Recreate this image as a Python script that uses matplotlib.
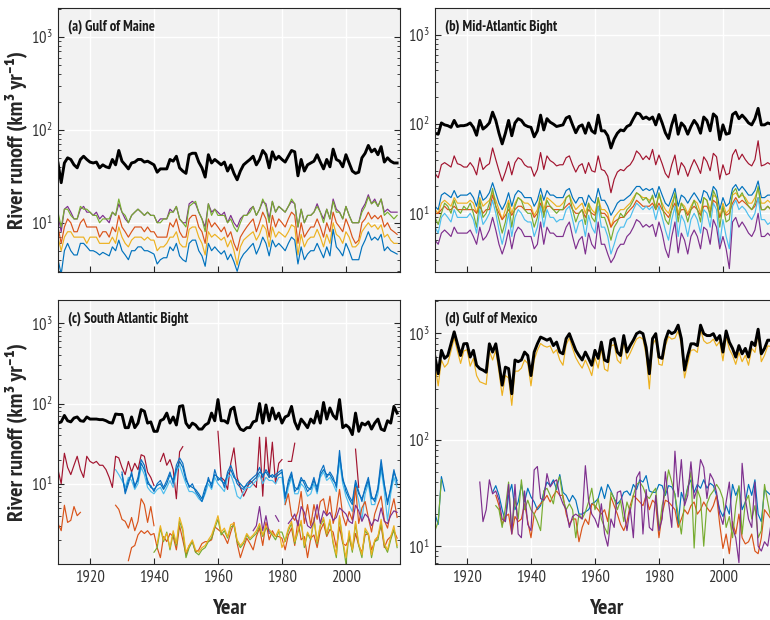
import numpy as np
import matplotlib
matplotlib.use("Agg")
import matplotlib.pyplot as plt
from matplotlib.ticker import FixedLocator, LogLocator, NullFormatter

nan = np.nan
Y0, Y1 = 1910, 2016
years = np.arange(Y0, Y1 + 1)


def series(start, vals):
    # place a run of annual values on the common 1910-2016 axis
    out = np.full(len(years), nan)
    i = start - Y0
    out[i:i + len(vals)] = vals
    return out


# colours (MATLAB default order)
BLUE, ORANGE, YELLOW = "#0072BD", "#D95319", "#EDB120"
PURPLE, GREEN, LBLUE, DRED = "#7E2F8E", "#77AC30", "#4DBEEE", "#A2142F"

# ---------------- (a) Gulf of Maine ----------------
a_total = [44, 27, 44, 50, 48, 42, 39, 48, 52, 48,
           45, 44, 45, 39, 42, 40, 39, 48, 42, 60,
           46, 42, 38, 44, 45, 48, 48, 45, 46, 44,
           42, 35, 38, 38, 38, 48, 46, 52, 39, 36,
           34, 54, 56, 56, 45, 39, 31, 54, 44, 48,
           45, 42, 45, 36, 42, 34, 29, 36, 42, 45,
           48, 52, 42, 48, 60, 54, 39, 58, 48, 52,
           48, 45, 52, 60, 58, 32, 48, 36, 42, 44,
           46, 54, 45, 38, 48, 40, 62, 48, 46, 40,
           54, 44, 36, 34, 35, 50, 56, 68, 58, 62,
           54, 66, 45, 50, 46, 44, 44]
a_purple = [12, 8, 14, 15, 13, 11, 11, 14, 15, 13,
            13, 12, 13, 11, 12, 11, 10, 13, 12, 16,
            13, 11, 10, 12, 13, 14, 13, 12, 13, 12,
            12, 10, 11, 11, 11, 14, 13, 15, 11, 10,
            10, 16, 17, 16, 13, 11, 9, 16, 13, 14,
            13, 12, 13, 10, 12, 10, 9, 11, 12, 12,
            14, 15, 12, 14, 17, 16, 11, 17, 13, 15,
            14, 13, 15, 17, 16, 9, 14, 10, 12, 12,
            13, 16, 13, 11, 14, 11, 18, 14, 13, 11,
            15, 12, 10, 10, 10, 14, 16, 20, 16, 18,
            15, 18, 13, 14, 13, 13, 13]
a_green = [13, 9, 14, 14, 12, 11, 11, 15, 14, 14,
           13, 12, 12, 10, 11, 11, 11, 13, 12, 18,
           13, 12, 10, 12, 13, 14, 13, 12, 13, 12,
           12, 10, 10, 11, 11, 13, 13, 15, 11, 10,
           9, 15, 16, 17, 13, 11, 8, 16, 12, 14,
           12, 12, 12, 10, 11, 9, 8, 10, 12, 12,
           13, 15, 12, 14, 18, 15, 10, 17, 13, 15,
           14, 13, 15, 18, 16, 9, 14, 10, 12, 12,
           13, 15, 13, 10, 14, 11, 17, 13, 13, 11,
           15, 12, 10, 10, 10, 13, 15, 19, 16, 17,
           15, 18, 12, 13, 12, 11, 12]
a_orange = [9, 6, 9, 11, 10, 8, 8, 10, 11, 9,
            9, 9, 9, 7, 8, 8, 7, 9, 8, 12,
            9, 8, 7, 8, 9, 9, 9, 8, 9, 8,
            8, 7, 7, 7, 7, 10, 9, 11, 8, 7,
            7, 11, 12, 12, 9, 8, 6, 11, 9, 10,
            9, 8, 9, 7, 8, 6, 5, 7, 8, 9,
            10, 11, 8, 10, 13, 11, 7, 12, 9, 11,
            10, 9, 11, 13, 12, 6, 10, 7, 8, 9,
            9, 11, 9, 7, 10, 8, 13, 10, 9, 8,
            11, 9, 7, 6, 6.5, 10, 11, 13, 11, 12,
            11, 12, 9, 10, 8.5, 8, 7.5]
a_yellow = [7, 5, 7, 8, 8, 7, 7, 7, 7, 6,
            7, 7, 7, 6, 6, 6, 6, 7, 6, 9,
            7, 6, 5.5, 6.5, 7, 7, 7, 6.5, 7, 6.5,
            6.5, 5, 5.5, 5.5, 6, 7, 7, 8, 6, 5.5,
            5.5, 8.5, 9, 9, 7, 6, 4.5, 8, 7, 7.5,
            7, 6.5, 7, 5.5, 6.5, 5, 3.5, 5.5, 6.5, 7,
            7.5, 8, 6.5, 7.5, 9.5, 8.5, 5.5, 9, 7, 8,
            7.5, 7, 8, 9.5, 9, 4.5, 7.5, 5.5, 6.5, 7,
            7, 8.5, 7, 5.5, 7.5, 6, 10, 7.5, 7, 6,
            8, 7, 5.5, 5.5, 6, 8, 9, 10, 9, 9.5,
            8.5, 9.5, 7, 7.5, 6.5, 6, 6]
a_blue = [4, 2.8, 5, 6, 5, 4.5, 4.5, 6, 6, 5.5,
          5, 5, 4.8, 4.5, 4.8, 4.6, 4.4, 5.5, 5, 6.5,
          5, 4.5, 4, 5, 5, 5.5, 5.5, 5, 5, 4.8,
          4.6, 3.6, 4, 4.2, 4.2, 5.5, 5, 6, 4.4, 4,
          3.8, 6, 6.5, 6.5, 5, 4.4, 3.4, 6, 5, 5.5,
          5, 4.6, 5, 4, 4.6, 3.8, 3, 4, 4.6, 5,
          5.5, 6, 4.6, 5.5, 7, 6, 4.4, 6.5, 5.5, 6,
          5.5, 5, 6, 7, 6.5, 3.6, 5.5, 4, 4.6, 5,
          5, 6, 5, 4.2, 5.5, 4.4, 8.5, 5.5, 5, 4.4,
          6, 5, 4, 4, 4, 5.5, 6.5, 8, 6.5, 7,
          6.5, 7.5, 5, 5.5, 5, 4.8, 4.6]

# ---------------- (b) Mid-Atlantic Bight ----------------
b_total = [79, 77, 103, 98, 96, 92, 110, 94, 96, 96,
           98, 103, 92, 75, 110, 88, 94, 103, 136, 110,
           79, 60, 79, 110, 74, 103, 115, 110, 98, 94,
           92, 72, 84, 126, 86, 115, 105, 100, 94, 96,
           98, 117, 122, 98, 80, 94, 98, 79, 103, 84,
           79, 126, 84, 84, 74, 54, 68, 79, 86, 84,
           94, 98, 115, 133, 130, 115, 120, 113, 120, 98,
           128, 103, 80, 69, 98, 126, 77, 103, 94, 77,
           94, 110, 98, 79, 120, 110, 84, 130, 120, 67,
           98, 77, 79, 128, 136, 115, 126, 115, 103, 98,
           115, 150, 98, 98, 103, 100, 95]
b_dred = [28, 25, 35, 37, 35, 33, 44, 36, 35, 33,
          33, 37, 33, 27, 42, 31, 34, 36, 54, 40,
          30, 23, 29, 38, 27, 37, 42, 40, 35, 33,
          33, 26, 31, 48, 31, 44, 39, 37, 34, 35,
          35, 42, 44, 35, 29, 34, 36, 28, 37, 30,
          29, 44, 31, 30, 26, 17, 24, 29, 31, 30,
          33, 35, 40, 50, 46, 40, 44, 40, 52, 35,
          45, 36, 28, 25, 35, 45, 27, 37, 33, 26,
          33, 40, 34, 28, 43, 38, 30, 47, 43, 24,
          35, 27, 28, 45, 52, 40, 46, 40, 36, 34,
          40, 65, 34, 35, 37, 35, 36]
b_blue = [12, 11, 16, 17, 16, 15, 18, 15, 16, 16,
          16, 17, 15, 12, 18, 14, 15, 17, 22, 17,
          13, 11, 13, 17, 12, 16, 18, 17, 15, 15,
          15, 12, 14, 19, 14, 18, 16, 16, 15, 15,
          15, 18, 19, 15, 13, 15, 15, 12, 16, 14,
          13, 19, 14, 14, 12, 9.5, 11, 13, 14, 14,
          15, 16, 18, 20, 20, 18, 19, 18, 19, 15,
          20, 16, 13, 12, 15, 19, 12, 16, 15, 13,
          15, 17, 15, 13, 18, 17, 14, 20, 18, 11,
          15, 12, 13, 19, 21, 18, 20, 18, 16, 16,
          18, 23, 15, 15, 16, 16, 15]
b_yellow = [11, 10, 13, 14, 13, 12, 15, 13, 13, 13,
            13, 14, 13, 10, 15, 12, 13, 14, 17, 14,
            11, 8.5, 11, 14, 10, 13, 15, 14, 13, 13,
            12, 9.5, 11, 16, 11, 15, 14, 13, 12, 12,
            13, 15, 16, 13, 11, 12, 13, 10, 13, 11,
            10, 15, 11, 11, 10, 7, 9, 10, 11, 11,
            12, 13, 15, 17, 16, 15, 15, 14, 15, 12,
            16, 13, 11, 10, 13, 16, 10, 13, 12, 10,
            12, 14, 13, 10, 15, 14, 11, 16, 15, 9,
            13, 10, 11, 16, 17, 15, 16, 15, 13, 13,
            15, 19, 13, 13, 14, 13, 13]
b_orange = [10, 10, 11, 12, 11, 11, 12, 11, 11, 11,
            11, 11, 11, 10, 12, 10, 11, 11, 16, 12,
            10, 8.5, 9.5, 11, 9.5, 11, 12, 12, 11, 11,
            11, 9, 10, 13, 10, 12, 12, 11, 11, 11,
            11, 12, 13, 11, 10, 10, 11, 9, 11, 10,
            9.5, 12, 10, 10, 9, 7, 8, 8.5, 9, 9,
            10, 11, 12, 14, 13, 12, 12, 12, 13, 11,
            13, 11, 10, 9, 11, 13, 9.5, 11, 11, 9.5,
            11, 12, 11, 9.5, 12, 12, 10, 14, 13, 9,
            11, 9.5, 10, 13, 15, 13, 14, 13, 12, 11,
            12, 15, 11, 11, 12, 11, 11]
b_green = [9, 7.5, 10, 13, 12, 10, 14, 11, 10, 12,
           11, 13, 10, 7, 14, 9, 10, 13, 19, 12,
           8.5, 6, 8, 13, 7, 12, 15, 14, 11, 10,
           10, 7, 9, 16, 9, 14, 12, 11, 10, 11,
           11, 15, 16, 11, 8, 10, 11, 7.5, 13, 9,
           8, 15, 9, 9, 7, 5, 7, 8, 10, 9,
           11, 12, 14, 17, 16, 14, 15, 13, 16, 11,
           17, 12, 8.5, 7.5, 11, 17, 8, 13, 11, 8,
           11, 14, 11, 8, 15, 14, 9, 18, 15, 7,
           12, 8, 8.5, 17, 19, 15, 17, 14, 12, 11,
           13, 20, 11, 11, 12, 11, 11]
b_lblue = [7, 6, 9, 10, 9, 8, 11, 9, 9, 9,
           9, 10, 8.5, 6, 11, 7.5, 8.5, 10, 14, 10,
           6.5, 4.5, 6.5, 10, 5.5, 9, 11, 10, 8.5, 8,
           8, 5.5, 7, 12, 7, 11, 9, 9, 8, 8.5,
           8.5, 11, 12, 8.5, 6, 8, 8.5, 5.5, 9.5, 7,
           6, 12, 7, 7, 5.5, 3.5, 4.5, 6, 7, 7,
           8.5, 9, 11, 13, 12, 11, 12, 11, 12, 8.5,
           12, 9, 6.5, 5, 8.5, 12, 5.5, 9.5, 8, 5.5,
           8.5, 10, 8.5, 6, 11, 10, 7, 13, 11, 4.5,
           8.5, 5.5, 4, 12, 14, 11, 12, 11, 9.5, 8.5,
           10, 15, 8.5, 8.5, 7.5, 8, 8.5]
b_purple = [5, 4.5, 6, 6.5, 6, 5.5, 7, 6, 6, 6,
            6, 6.5, 5.5, 4.5, 7, 5, 5.5, 6.5, 9, 6.5,
            4.5, 3.5, 4.5, 6.5, 4, 6, 7, 6.5, 5.5, 5.5,
            5.5, 4, 4.5, 8, 4.5, 7, 6, 6, 5.5, 5.5,
            5.5, 7, 8, 5.5, 4, 5, 5.5, 3.5, 6, 4.5,
            4, 8, 4.5, 4.5, 3.5, 2.8, 3.2, 4, 4.5, 4.5,
            5.5, 6, 7, 8.5, 8, 7, 7.5, 7, 7.5, 5.5,
            8, 6, 4, 3.2, 5.5, 8, 3.6, 6, 5, 3.5,
            5.5, 6.5, 5.5, 4, 7, 6.5, 4.5, 8.5, 7, 4,
            5.5, 4, 2.4, 8, 9, 7, 8, 7, 6, 5.5,
            6.5, 10, 5.5, 5.5, 6, 5.5, 5.5]

# ---------------- (c) South Atlantic Bight ----------------
c_total = [57, 59, 71, 61, 59, 66, 68, 61, 60, 68,
           64, 64, 64, 63, 63, 61, 58, 57, 74, 73,
           73, 50, 50, 68, 50, 57, 84, 80, 57, 59,
           45, 45, 61, 64, 76, 57, 68, 54, 92, 94,
           57, 50, 57, 54, 48, 48, 54, 57, 76, 61,
           112, 61, 61, 57, 84, 90, 57, 48, 46, 50,
           50, 59, 61, 100, 57, 96, 61, 88, 64, 76,
           57, 68, 71, 92, 59, 48, 64, 57, 50, 64,
           57, 80, 57, 103, 64, 88, 71, 64, 112, 50,
           54, 50, 41, 76, 45, 57, 54, 59, 48, 57,
           64, 48, 46, 61, 57, 92, 76]
c_dred = [15, 10, 24, 16, 13, 17, 22, 15, 12, 22,
          19, 18, 19, 17, 17, 15, 12, 9, 22, 21,
          16, 13, 19, 14, 18, 15, 23, 22, 14, 12,
          9.5, nan, 19, 24, 17, 20, 15, 6.5, 25, 29,
          nan, nan, nan, nan, nan, nan, nan, nan, nan, nan,
          45, 12, 11, 8.5, 18, 28, 12, 9, 7, 8.5,
          11, 10, 9, 38, 7, 38, 12, 33, 10, 18,
          20, nan, 19, 19, 32, nan, nan, nan, nan, nan,
          nan, nan, nan, nan, nan, nan, nan, nan, nan, nan,
          nan, nan, nan, 27, 9, nan, nan, nan, nan, nan,
          nan, nan, nan, nan, nan, nan, nan]
c_blue1 = [14, 7.5, 10, 14, 9, 12, 20, 17, 10, 9.5,
           8, 10, 11, 9, 11, 14, 10, 17, 21, 18,
           12, 9, 10, 8, 7, 6, 8, 12, 9, 15,
           11, 12, 9, 14, 17, 13, 10, 9, 8.5, 10,
           11, 12, 13, 16, 12, 15, 13, 12, 13, 14,
           15, 6.5, 11, 14, 8, 9, 12, 10, 8, 9,
           12, 8, 14, 17, 12, 14, 12, 9, 26, 11,
           9, 7, 6, 11, 8, 6, 9, 12, 7, 6,
           9, 20, 10, 5.5, 9, 15, 10]          # from 1930
c_blue2 = [13, 8, 11, 13, 9.5, 11, 18, 15, 11, 9,
           8.5, 9.5, 10, 8.5, 10, 13, 11, 15, 19, 16,
           11, 9.5, 9, 8.5, 7.5, 6.5, 9, 11, 10, 13,
           12, 11, 10, 13, 15, 12, 11, 10, 9, 9.5,
           10, 11, 12, 14, 13, 14, 12, 13, 12, 13,
           14, 7, 10, 13, 9, 8.5, 11, 11, 9, 8.5,
           11, 9, 13, 15, 13, 13, 11, 10, 22, 12,
           8, 6.5, 5.5, 10, 7.5, 6.5, 8.5, 11, 6.5, 6.5,
           8.5, 17, 9.5, 6, 8.5, 14, 11]       # from 1930
c_lblue = [15, 13,
           11, 9, 12, 11, 8.5, 10, 16, 13, 9, 8,
           7.5, 8.5, 9, 7.5, 9, 11, 9, 14, 17, 13,
           10, 8, 8, 7.5, 6.5, 6, 7.5, 10, 8.5, 12,
           10, 9, 8, 12, 13, 10, 7, 6.5, 8, 9,
           9, 10, 11, 13, 10, 12, 11, 11, 10, 12,
           12, 5.5, 9, 12, 7.5, 7.5, 10, 9, 7, 7.5,
           10, 7.5, 12, 14, 11, 12, 10, 8, 19, 10,
           7, 5.5, 4.5, 9, 6, 3.5, 7.5, 10, 5.5, 5.5,
           7.5, 15, 8, 3.5, 7.5, 12, 9]        # from 1928
c_orange1 = [3.2, 2.6, 5.4, 3.3, 3.5, 5.2, 4, 4.4,
             nan, nan, nan, nan, nan, nan, nan, nan, nan, nan,
             5.4, 4.8, 3.6, 3.4, 2.8, 3.8, 2.6, 3.4, 6.5, 5.5,
             3.3, 5.2, 3.0]                    # from 1910
c_orange2 = [1.1, 1.6, 1.7, 2.3, 2.6, 2.4, 2.6, 2.3,
             2.4, 1.6, 1.2, 2.2, 1.9, 2.4, 2.2, 1.5, 3.0, 2.0,
             1.3, 1.7, 1.9, 1.4, 1.5, 1.8, 1.9, 1.9, 2.0, 2.9,
             2.7, 2.5, 2.2, 1.8, 2.5, 3.3, 1.8, 1.2, 1.6, 2.1,
             1.8, 1.5, 2.2, 2.8, 1.7, 3.3, 2.0, 2.6, 2.2, 2.2,
             2.1, 1.5, 2.3, 2.8, 1.7, 3.5, 2.0, 2.2, 1.2, 2.1,
             2.3, 1.6, 2.6, 3.2, 2.2, 2.7, 2.5, 1.6, 2.9, 1.8,
             1.7, 2.1, 1.5, 2.4, 1.7, 1.4, 2.3, 2.4, 1.5, 1.9,
             2.2, 3.0, 1.6, 2.0, 2.2, 2.6, 2.1]  # from 1932
c_orange3 = [5.5, 7.5, 4, 3.5, 4.5, 8, 3.2, 5.5, 3,
             5.5, 3.6, 6, 6.5, 4, 7, 3.2, 4.5, 8.5, 4,
             3, 4.5, 3.5, 9, 3.2, 5, 6, 3.8, 2.5, 4.2,
             5.5, 7, 3.5, 2.8, 4.5, 6.5, 3.8]  # from 1981
c_green = [1.4, 1.6, 2.8, 1.9, 2.5, 1.5, 2.4, 1.7, 3.4, 2.6,
           1.2, 1.6, 1.9, 1.4, 1.3, 1.5, 1.6, 1.9, 2.1, 2.8,
           3.6, 2.3, 2.6, 2.1, 2.9, 3.0, 1.9, 1.6, 1.8, 2.3,
           2.0, 2.2, 2.4, 3.0, 2.2, 2.8, 2.6, 2.3, 2.0, 2.5,
           2.5, 1.9, 2.6, 3.2, 1.8, 2.5, 3.3, 1.6, 2.4, 2.0,
           3.6, 1.8, 3.0, 3.6, 2.3, 3.4, 1.8, 1.2, 3.8, 1.9,
           1.0, 2.4, 1.4, 3.2, 1.7, 1.2, 2.6, 2.3, 1.2, 1.9,
           2.0, 3.3, 1.7, 1.4, 2.0, 2.7, 1.6]  # from 1940
c_yellow = [1.8, 3.0, 2.0, 2.4, 1.6, 2.6, 1.8, 3.8, 2.8,
            1.4, 1.7, 2.0, 1.5, 1.4, 1.6, 1.7, 2.0, 2.3, 3.0,
            4.0, 2.5, 2.8, 2.2, 3.1, 3.2, 2.0, 1.7, 1.9, 2.4,
            2.1, 2.3, 2.6, 3.2, 2.3, 3.0, 2.7, 2.4, 2.2, 2.7,
            1.6, 2.0, 2.8, 3.4, 1.9, 2.6, 3.5, 1.7, 2.5, 2.1,
            3.8, 1.9, 3.1, 3.8, 2.4, 3.6, 1.9, 1.3, 4.0, 2.0,
            1.2, 2.6, 1.5, 3.4, 1.8, 1.3, 2.8, 2.4, 1.3, 2.0,
            2.2, 3.6, 1.8, 1.5, 2.2, 3.0, 1.7]  # from 1941
c_purple = [2.6, 3.0, 5.2, 2.6, 4.0, 2.4, nan, 4.0, 3.4,
            nan, nan, 3.2, 3.6, 4.2, 3.0, 5.2, 4.4, 3.0, 2.8,
            3.4, 5.5, 3.2, 4.6, 4.0, 4.4, 3.5, 3.8, 5.0, 4.6,
            4.2, 3.4, 3.2, 5.4, 4.6, 3.4, 4.2, 3.8, 3.0, 3.6,
            3.4, 5.0, 3.4, 3.2, 4.0, 4.6, 4.4]  # from 1971

# ---------------- (d) Gulf of Mexico ----------------
d_total = [597, 416, 690, 580, 617, 795, 1030, 795, 617, 795,
           800, 597, 690, 500, 465, 450, 430, 795, 665, 795,
           520, 325, 480, 465, 270, 560, 540, 560, 665, 617,
           400, 665, 795, 920, 890, 860, 890, 765, 825, 665,
           640, 890, 990, 825, 690, 617, 560, 665, 580, 500,
           690, 580, 825, 560, 540, 860, 890, 665, 617, 950,
           665, 765, 860, 990, 1030, 990, 735, 416, 890, 990,
           597, 580, 860, 1050, 990, 1030, 1190, 890, 450, 617,
           795, 795, 765, 1190, 990, 950, 950, 990, 860, 950,
           665, 1050, 825, 720, 597, 765, 640, 720, 597, 825,
           765, 1090, 640, 720, 860, 860, 735]
d_yellow = [500, 320, 560, 480, 520, 680, 900, 680, 520, 680,
            700, 490, 580, 400, 350, 340, 330, 680, 560, 690,
            430, 260, 400, 380, 210, 440, 440, 470, 560, 520,
            320, 560, 690, 800, 760, 740, 760, 650, 700, 560,
            500, 780, 900, 720, 590, 520, 470, 560, 480, 400,
            590, 470, 720, 460, 440, 760, 780, 560, 520, 840,
            570, 650, 760, 880, 920, 880, 620, 300, 780, 880,
            510, 500, 760, 930, 880, 900, 1050, 780, 380, 520,
            690, 700, 660, 1080, 850, 800, 820, 880, 760, 840,
            550, 930, 710, 620, 510, 660, 540, 620, 500, 720,
            660, 980, 540, 620, 760, 750, 620]
d_blue = [20, 16, 45, 33,
          nan, nan, nan, nan, nan, nan, nan, nan, nan, nan, nan, nan, nan, nan,
          32, 37,
          30, 22, 17, 30, 38, 22, 26, 38, 26, 35,
          29, 26, 22, 24, 32, 40, 37, 42, 34, 47,
          32, 30, 26, 30, 27, 20, 20, 21, 22, 25,
          26, 28, 36, 28, 38, 33, 28, 25, 27, 32,
          33, 30, 38, 34, 42, 40, 46, 33, 32, 32,
          38, 37, 30, 37, 36, 31, 16, 32, 26, 36,
          42, 32, 38, 35, 42, 35, 39, 37, 30, 22,
          19, 24, 20, 38, 30, 36, 22, 26, 38, 30,
          42, 20, 17, 34, 32, 30, 29]         # from 1910
d_green = [14, 17, 42,
           nan, nan, nan, nan, nan, nan, nan, nan, nan, nan, nan, nan, nan, nan, nan, nan,
           24,
           22, 15, 23, 40, 14, 28, 18, 42, 22, 27,
           22, 20, 17, 14, 33, 35, 30, 25, 38, 45,
           28, 22, 25, 22, 12, 20, 18, 21, 26, 35,
           22, 28, 18, 15, 13, 32, 28, 22, 27, 17,
           26, 21, 30, 38, 40, 36, 30, 28, 32, 35,
           14, 24, 32, 52, 40, 30, 20, 13, 26, 35,
           50, 9.6, 34, 28, 10, 25, 30, 33, 38, 34,
           28, 15, 19, 12, 24, 37, 13, 26, 30, 18,
           24, 12, 14, 38, 26, 18, 22]         # from 1910
d_orange = [30,
            24, 16, 19, 20, 13, 19, 17, 18, 25, 17,
            12, 20, 23, 25, 27, 30, 26, 30, 33, 30,
            30, 20, 16, 18, 18, 11, 15, 18, 16, 25,
            24, 22, 20, 22, 17, 29, 24, 20, 16, 14,
            17, 24, 30, 28, 26, 24, 30, 22, 27, 25,
            12, 20, 27, 26, 24, 22, 15, 18, 22, 20,
            24, 26, 20, 22, 26, 23, 21, 24, 30, 16,
            9.5, 13, 8.5, 17, 13, 20, 12, 10.5, 11, 13,
            9, 8.5, 12, 22, 20, 18, 17]        # from 1929
d_purple = [40, 17, 22, 42, 31, 33,
            27, 18, 17, 38, 13, 38, 13, 12, 33, 16,
            14, 52, 56, 28, 27, 48, 36, 40, 42, 30,
            25, 22, 15, 19, 20, 19, 18, 57, 27, 20,
            18, 15, 25, 13, 10, 18, 15, 32, 33, 22,
            14, 23, 12, 44, 50, 13, 34, 15, 14, 30,
            14, 18, 50, 26, 15, 78, 29, 65, 24, 30,
            62, 28, 35, 65, 55, 28, 48, 42, 32, 20,
            16, 26, 40, 15, 12, 7, 60, 28, 18, 15,
            40, 10, 9, 11, 10, 16, 12]         # from 1924

panels = [
    dict(title="(a) Gulf of Maine", ylim=(2.95, 2050), total=a_total, lines=[
        (series(1910, a_purple), PURPLE), (series(1910, a_green), GREEN),
        (series(1910, a_orange), ORANGE), (series(1910, a_yellow), YELLOW),
        (series(1910, a_blue), BLUE)]),
    dict(title="(b) Mid-Atlantic Bight", ylim=(2.2, 2000), total=b_total, lines=[
        (series(1910, b_dred), DRED), (series(1910, b_blue), BLUE),
        (series(1910, b_yellow), YELLOW), (series(1910, b_orange), ORANGE),
        (series(1910, b_green), GREEN), (series(1910, b_lblue), LBLUE),
        (series(1910, b_purple), PURPLE)]),
    dict(title="(c) South Atlantic Bight", ylim=(1.0, 1950), total=c_total, lines=[
        (series(1910, c_dred), DRED), (series(1928, c_lblue), LBLUE),
        (series(1930, c_blue2), BLUE), (series(1930, c_blue1), "#0A6FC2"),
        (series(1910, c_orange1), ORANGE), (series(1932, c_orange2), ORANGE),
        (series(1981, c_orange3), ORANGE), (series(1940, c_green), GREEN),
        (series(1941, c_yellow), YELLOW), (series(1971, c_purple), PURPLE)]),
    dict(title="(d) Gulf of Mexico", ylim=(6.8, 2050), total=d_total, lines=[
        (series(1910, d_blue), BLUE), (series(1929, d_orange), ORANGE),
        (series(1910, d_green), GREEN), (series(1924, d_purple), PURPLE),
        (series(1910, d_yellow), YELLOW)]),
]

plt.rcParams["font.family"] = ["PT Sans Narrow", "Fira Sans Condensed",
                               "Roboto Condensed", "Archivo Narrow",
                               "DejaVu Sans"]
plt.rcParams["mathtext.fontset"] = "custom"
plt.rcParams["mathtext.rm"] = "PT Sans Narrow"

W, H = 770, 620
fig = plt.figure(figsize=(W / 100, H / 100), dpi=100)
boxes = [(58, 8), (435, 8), (58, 300), (435, 300)]
aw, ah = 342, 264

for k, (p, (x0, y0)) in enumerate(zip(panels, boxes)):
    ax = fig.add_axes([x0 / W, 1 - (y0 + ah) / H, aw / W, ah / H])
    ax.set_facecolor("#f2f2f2")
    for vals, col in p["lines"]:
        ax.plot(years, vals, color=col, lw=0.85)
    ax.plot(years, p["total"], color="black", lw=2.1)
    ax.set_yscale("log")
    ax.set_xlim(1910, 2016.9)
    ax.set_ylim(*p["ylim"])
    ax.yaxis.set_major_locator(FixedLocator([10, 100, 1000]))
    ax.yaxis.set_minor_locator(LogLocator(base=10, subs=np.arange(2, 10)))
    ax.yaxis.set_minor_formatter(NullFormatter())
    ax.set_xticks([1920, 1940, 1960, 1980, 2000])
    ax.grid(True, which="major", color="white", lw=1.0)
    ax.set_axisbelow(True)
    ax.tick_params(which="both", direction="in", right=True, top=False,
                   colors="#262626", labelcolor="#333333", labelsize=12)
    ax.tick_params(which="major", length=4, pad=4)
    ax.tick_params(which="minor", length=2.3)
    for s in ax.spines.values():
        s.set_color("#262626")
        s.set_linewidth(0.8)
    ax.text(0.028, 0.955, p["title"], transform=ax.transAxes, ha="left",
            va="top", fontsize=10.5, fontweight="bold", color="#1a1a1a")
    if k < 2:
        ax.tick_params(labelbottom=False)
    else:
        ax.set_xlabel("Year", fontsize=16, fontweight="bold",
                      color="#262626", labelpad=10)
    if k % 2 == 0:
        ax.set_ylabel("River runoff (km³ yr⁻¹)", fontsize=16,
                      fontweight="bold", color="#262626", labelpad=3)

fig.savefig("out.png", dpi=100)
